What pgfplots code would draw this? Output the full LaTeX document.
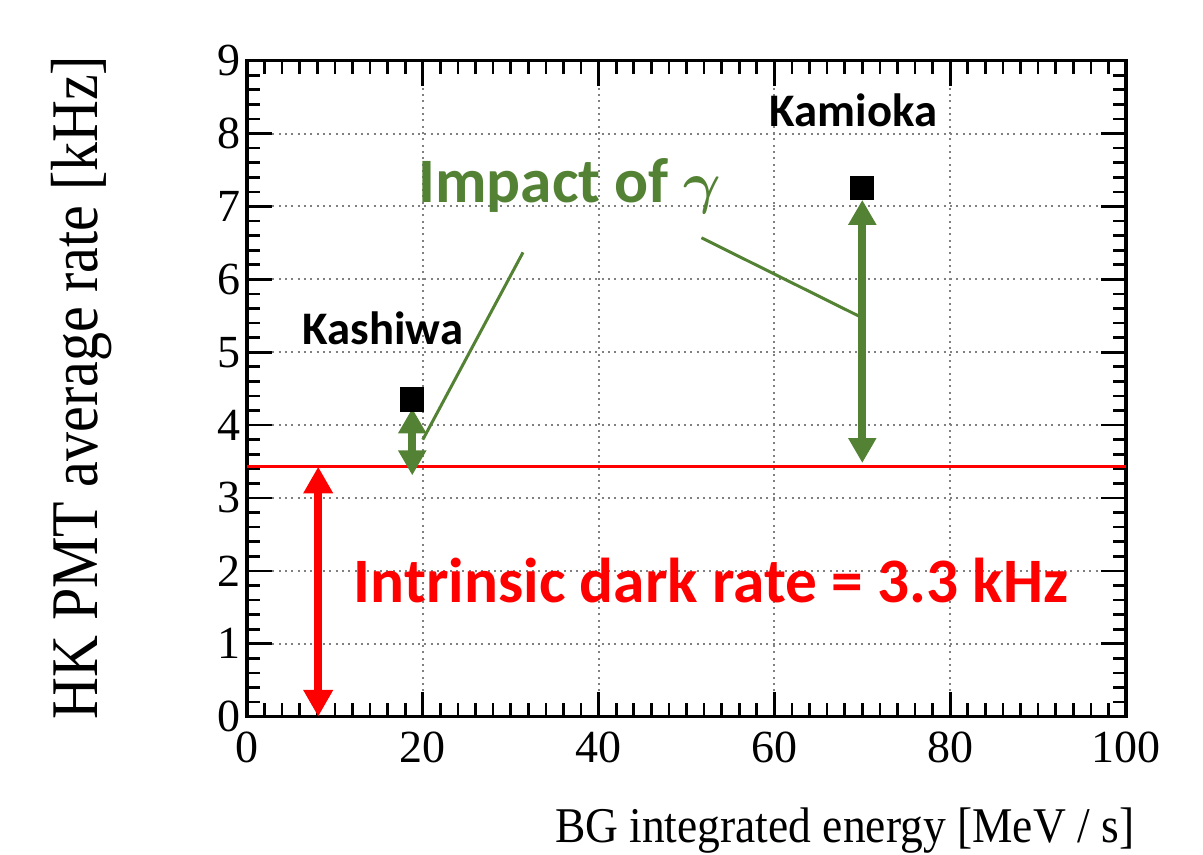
\documentclass[border=0pt]{standalone}
\usepackage{fontspec}
\setmainfont{Liberation Serif}
\newfontfamily\carlito{Carlito}
\usepackage{pgfplots}
\pgfplotsset{compat=1.18}
\usetikzlibrary{arrows.meta}
\definecolor{hkgreen}{RGB}{84,130,53}
\begin{document}
\begin{tikzpicture}
\begin{axis}[
  width=263.7pt, height=196.8pt, scale only axis,
  xmin=0, xmax=100, ymin=0, ymax=9,
  xtick={0,20,...,100}, ytick={0,1,...,9},
  minor x tick num=9, minor y tick num=4,
  tick align=inside, major tick length=7.5pt, minor tick length=4pt,
  tick style={black, line width=0.8pt},
  axis line style={line width=1pt},
  grid=major, major grid style={dash pattern=on 0.6pt off 1.3pt, gray, line width=0.6pt},
  ticklabel style={font=\fontsize{13.8}{13.8}\selectfont},
  yticklabel style={xshift=1.5pt},
  xticklabel style={yshift=-1pt},
  /pgf/number format/assume math mode=true,
  xlabel={BG integrated energy [MeV / s]},
  ylabel={HK PMT average rate [kHz]},
  xlabel style={font=\fontsize{15}{15}\selectfont, inner sep=0pt, at={(axis description cs:1.01,-0.1925)}, anchor=base east, xscale=0.91},
  ylabel style={font=\fontsize{20}{20}\selectfont, inner sep=0pt, at={(axis description cs:-0.1706,1.0085)}, anchor=base east, xscale=0.87},
  clip=false,
]
% intrinsic dark rate line
\addplot[red, line width=0.9pt] coordinates {(0,3.43) (100,3.43)};
% red double arrow
\addplot[red, line width=2.4pt, {Triangle[width=8.4pt,length=8pt]}-{Triangle[width=8.4pt,length=8pt]}] coordinates {(8.1,0) (8.1,3.43)};
% green double arrows
\addplot[hkgreen, line width=2.4pt, {Triangle[width=8pt,length=7.5pt]}-{Triangle[width=8pt,length=7.5pt]}] coordinates {(18.8,4.23) (18.8,3.31)};
\addplot[hkgreen, line width=2.4pt, {Triangle[width=8pt,length=7.5pt]}-{Triangle[width=8pt,length=7.5pt]}] coordinates {(70,7.09) (70,3.48)};
% pointer lines
\addplot[hkgreen, line width=0.9pt] coordinates {(31.4,6.37) (20.0,3.80)};
\addplot[hkgreen, line width=0.9pt] coordinates {(51.7,6.57) (69.7,5.49)};
% data points
\addplot[only marks, mark=square*, mark size=3.45pt, black] coordinates {(18.8,4.35) (70,7.25)};
% texts
\node[anchor=base, red, font=\carlito\bfseries\fontsize{19}{19}\selectfont, inner sep=0pt] at (axis cs:52.8,1.56) {Intrinsic dark rate = 3.3 kHz};
\node[anchor=base west, hkgreen, font=\carlito\bfseries\fontsize{19}{19}\selectfont, inner sep=0pt] at (axis cs:19.43,7.05) {Impact of {\boldmath$\gamma$}};
\node[anchor=base west, black, font=\carlito\bfseries\fontsize{14}{14}\selectfont, inner sep=0pt] at (axis cs:6.25,5.10) {Kashiwa};
\node[anchor=base west, black, font=\carlito\bfseries\fontsize{14}{14}\selectfont, inner sep=0pt] at (axis cs:59.4,8.09) {Kamioka};
\coordinate (bl) at (axis description cs:-0.281,-0.2108);
\coordinate (tr) at (axis description cs:1.0876,1.0925);
\end{axis}
\path (bl) rectangle (tr);
\end{tikzpicture}
\end{document}
